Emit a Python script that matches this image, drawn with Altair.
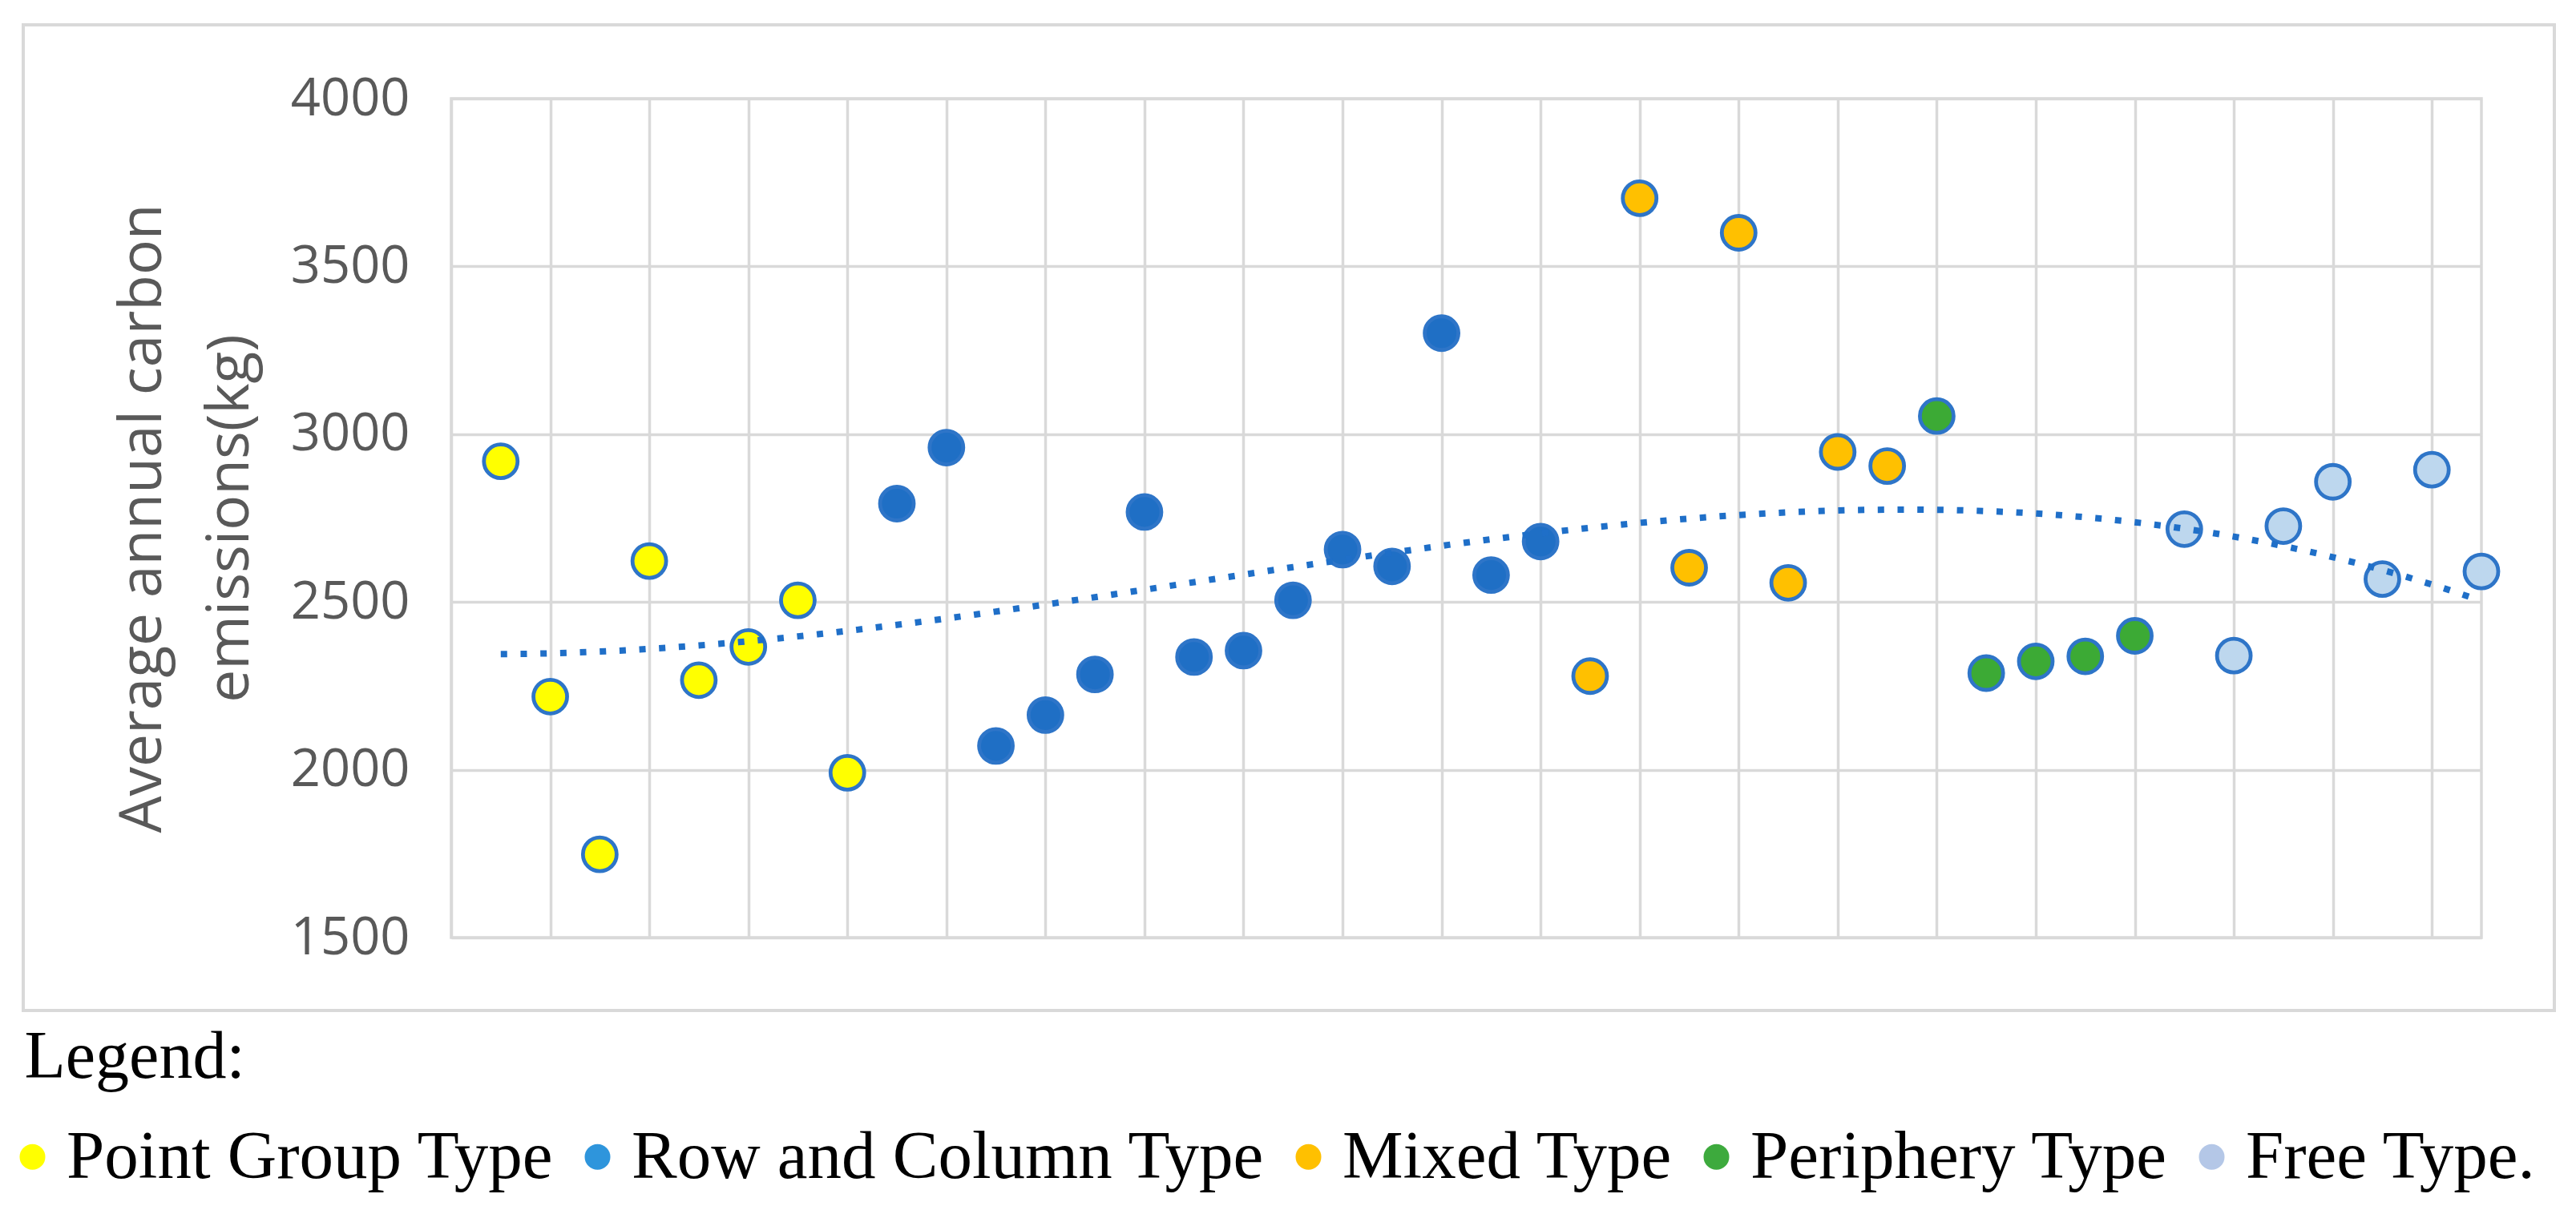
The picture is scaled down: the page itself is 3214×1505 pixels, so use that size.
import altair as alt
import pandas as pd

categories = ["Point Group Type", "Row and Column Type", "Mixed Type", "Periphery Type", "Free Type"]
marker_fill = ["#FFFF00", "#1F6FC5", "#FFC000", "#3CAA35", "#BDD7EE"]
legend_fill = ["#FFFF00", "#2E95DC", "#FFC000", "#3DAA3D", "#B4C7E7"]

point_group = [2919, 2218, 1748, 2622, 2267, 2366, 2505, 1991]
row_column = [2793, 2960, 2071, 2163, 2284, 2768, 2336, 2355, 2505, 2656, 2606, 3301, 2580, 2680]
mixed = [2279, 3703, 2602, 3600, 2557, 2947, 2905]
periphery = [3054, 2288, 2323, 2338, 2399]
free = [2717, 2340, 2726, 2858, 2568, 2894, 2591]

y_ticks = [1500, 2000, 2500, 3000, 3500, 4000]
x_grid = list(range(0, 41, 2))
y_title = ["Average annual carbon", "emissions(kg)"]
legend_heading = "Legend:"

series = [point_group, row_column, mixed, periphery, free]
rows = []
idx = 1
for cat, vals in zip(categories, series):
    for v in vals:
        rows.append({"idx": idx, "emission": v, "type": cat})
        idx += 1
df = pd.DataFrame(rows)

x_enc = alt.X("idx:Q", scale=alt.Scale(domain=[0, 41], nice=False, zero=False),
              axis=alt.Axis(values=x_grid, grid=True, labels=False, ticks=False,
                            domain=False, title=legend_heading,
                            titleFont="Liberation Serif", titleFontSize=84,
                            titleFontWeight="normal", titleColor="black",
                            titleX=-533, titleY=174, titleAlign="left",
                            titleAnchor="start", titleBaseline="alphabetic",
                            titleLimit=2000))
y_enc = alt.Y("emission:Q", scale=alt.Scale(domain=[1500, 4000], nice=False, zero=False),
              axis=alt.Axis(values=y_ticks, format="d", grid=True, ticks=False, tickSize=0,
                            domain=False,
                            labelFont="Open Sans", labelFontSize=65, labelColor="#595959",
                            labelPadding=52, labelFlush=False, labelOverlap=False,
                            title=y_title, titleFont="Open Sans", titleFontSize=73,
                            titleFontWeight="normal", titleColor="#595959",
                            titleLineHeight=109, titlePadding=39))

frame = alt.Chart(alt.Data(values=[{"a": 1}])).mark_rect(
    fill="transparent", stroke="#D9D9D9", strokeWidth=4
).encode(x=alt.value(-534), x2=alt.value(2624), y=alt.value(-92), y2=alt.value(1138))

points = alt.Chart(df).mark_circle(
    size=1764, stroke="#2E75C8", strokeWidth=4.8, opacity=1
).encode(
    x=x_enc, y=y_enc,
    fill=alt.Fill("type:N", scale=alt.Scale(domain=categories, range=marker_fill), legend=None),
)

trend = alt.Chart(df).transform_regression(
    "idx", "emission", method="poly", order=3, extent=[1, 41]
).mark_line(color="#1F6FC8", strokeWidth=8, strokeDash=[8, 16.7], strokeCap="butt").encode(
    x="idx:Q", y="emission:Q"
)

legend_layer = alt.Chart(df).transform_filter("false").mark_circle(opacity=1).encode(
    x="idx:Q", y="emission:Q",
    fill=alt.Fill("type:N", scale=alt.Scale(domain=categories, range=legend_fill),
                  legend=alt.Legend(
                      title=None, orient="none", legendX=-555, legendY=1278,
                      direction="horizontal",
                      labelFont="Liberation Serif", labelFontSize=85, labelColor="black",
                      labelOffset=0, columnPadding=22, labelLimit=3000,
                      symbolType="circle", symbolSize=1024, symbolStrokeWidth=0,
                      symbolOpacity=1, symbolOffset=-10,
                      labelExpr="datum.label == 'Free Type' ? 'Free Type.' : datum.label",
                  )),
)

chart = alt.layer(frame, points, trend, legend_layer).resolve_scale(fill="independent").properties(
    width=2533, height=1047,
    padding={"left": 0, "top": 21, "right": 0, "bottom": 5},
    background="white",
).configure_view(stroke="#D9D9D9", strokeWidth=3.5).configure_axis(
    gridColor="#D9D9D9", gridWidth=3.5
)

chart.save("out.html", embed_options={"renderer": "svg", "actions": False})
